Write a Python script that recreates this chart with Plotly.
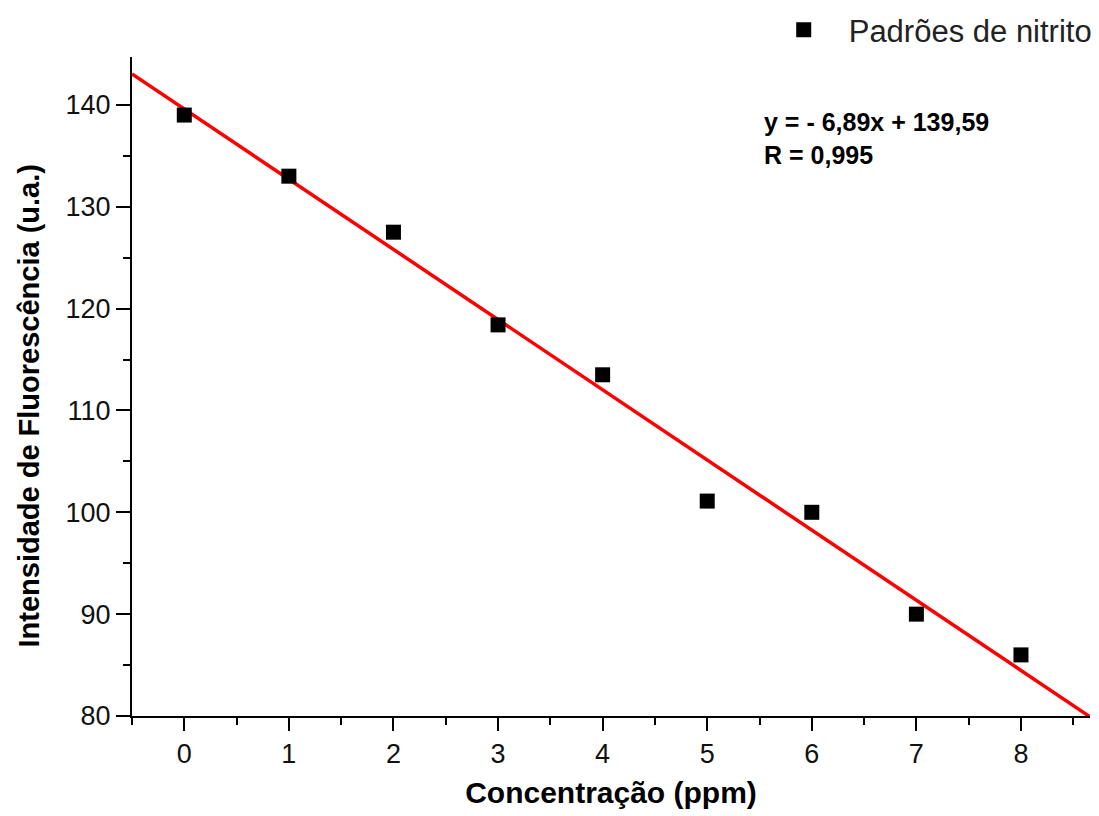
import plotly.graph_objects as go

# Data
conc = [0, 1, 2, 3, 4, 5, 6, 7, 8]
intensity = [139.0, 133.0, 127.5, 118.4, 113.5, 101.1, 100.0, 90.0, 86.0]
slope = -6.89
intercept = 139.59
x_range = [-0.5, 8.66]
y_range = [80, 144.7]
fit_x = [x_range[0], x_range[1]]
fit_y = [slope * v + intercept for v in fit_x]

FONT = "Liberation Sans, Arial, sans-serif"

fig = go.Figure()
fig.add_trace(go.Scatter(
    x=fit_x, y=fit_y, mode="lines",
    line=dict(color="#ff0000", width=3.5),
    showlegend=False, hoverinfo="skip",
))
fig.add_trace(go.Scatter(
    x=conc, y=intensity, mode="markers",
    marker=dict(symbol="square", size=15, color="black"),
    name="Padrões de nitrito",
))

fig.update_layout(
    width=1099, height=816,
    margin=dict(l=132, r=9, t=57, b=100, autoexpand=False),
    paper_bgcolor="white", plot_bgcolor="white",
    font=dict(family=FONT, color="black"),
    showlegend=True,
    legend=dict(
        x=1.007, y=1.041, xanchor="right", yanchor="middle",
        font=dict(size=31, family=FONT, color="#222"),
        bgcolor="rgba(0,0,0,0)", itemsizing="trace", itemwidth=80,
    ),
    xaxis=dict(
        range=x_range, showgrid=False, zeroline=False,
        showline=True, linecolor="black", linewidth=2,
        ticks="outside", ticklen=13, tickwidth=2, tickcolor="black",
        tickmode="linear", tick0=0, dtick=1,
        minor=dict(ticks="outside", ticklen=7, tickwidth=2, tickcolor="black", dtick=0.5, tick0=0.5),
        tickfont=dict(size=27, family=FONT, color="#111"),
        title=dict(text="<b>Concentração (ppm)</b>", font=dict(size=30, family=FONT), standoff=14),
    ),
    yaxis=dict(
        range=y_range, showgrid=False, zeroline=False,
        showline=True, linecolor="black", linewidth=2,
        ticks="outside", ticklen=14, tickwidth=2, tickcolor="black",
        tickmode="linear", tick0=80, dtick=10,
        minor=dict(ticks="outside", ticklen=7, tickwidth=2, tickcolor="black", dtick=5, tick0=85),
        tickfont=dict(size=27, family=FONT, color="#111"),
    ),
    annotations=[
        dict(
            x=5.52, y=139.9, xref="x", yref="y",
            text="<b>y = - 6,89x + 139,59<br>R = 0,995</b>",
            showarrow=False, align="left", xanchor="left", yanchor="top",
            font=dict(size=25, family=FONT, color="black"),
        ),
        dict(
            x=-0.2, y=0.5, xref="paper", yref="paper",
            xshift=0, yshift=-20,
            text="<b>Intensidade de Fluorescência (u.a.)</b>",
            textangle=-90, showarrow=False,
            xanchor="center", yanchor="middle",
            font=dict(size=29, family=FONT, color="black"),
        ),
    ],
)
# place y-axis title centre at ~28 px from the left edge
plot_w = 1099 - 132 - 9
fig.layout.annotations[1].x = (28 - 132) / plot_w

fig.write_html("out.html")
